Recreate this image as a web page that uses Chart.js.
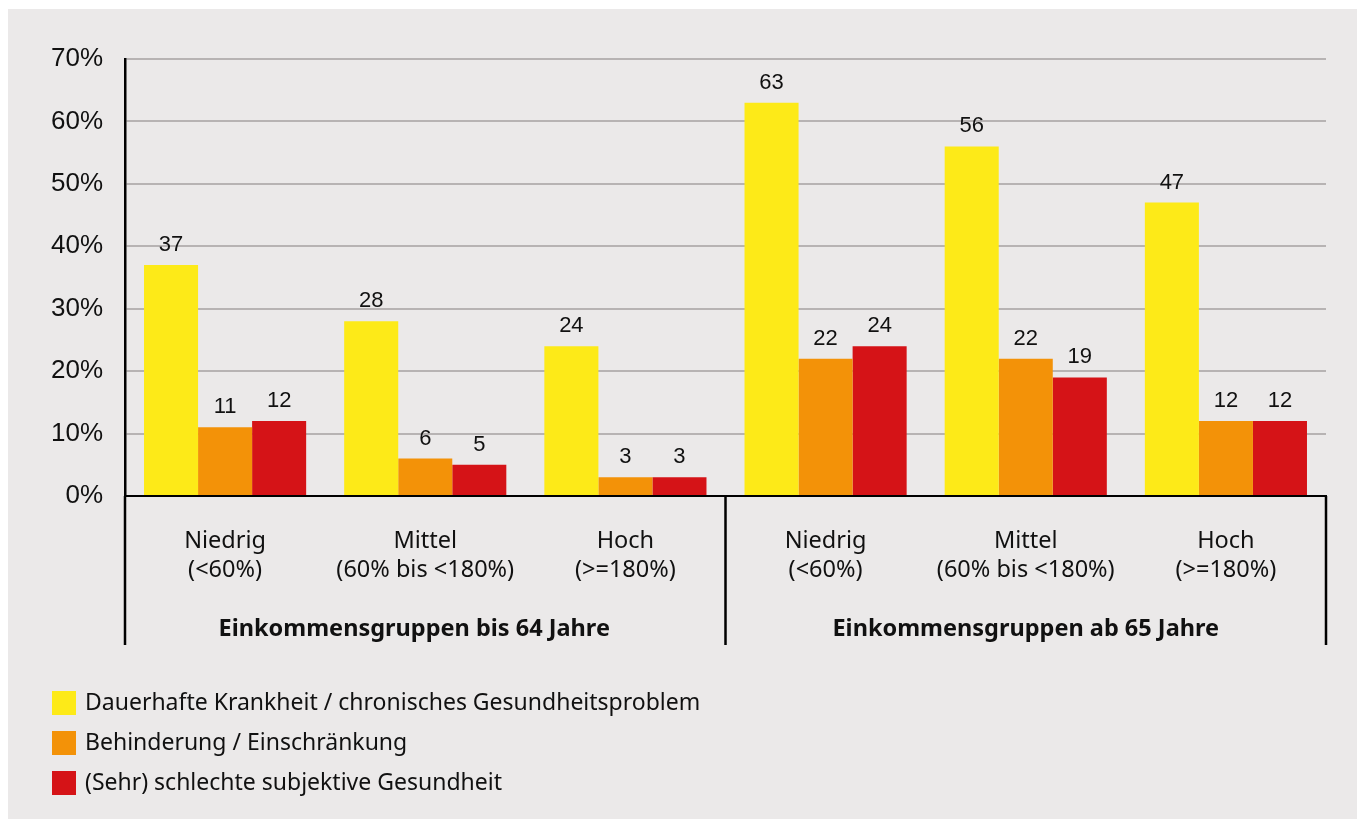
<!DOCTYPE html>
<html>
<head>
<meta charset="utf-8">
<script src="https://cdn.jsdelivr.net/npm/chart.js@4/dist/chart.umd.min.js"></script>
<style>
  html, body { margin: 0; padding: 0; background: #fff; }
  #wrap { position: absolute; left: 8px; top: 9px; width: 1349px; height: 810px; background: #ebe9e9; }
</style>
</head>
<body>
<div id="wrap"><canvas id="myChart" width="1349" height="810"></canvas></div>
<script>
var categories = [
    ['Niedrig', '(<60%)'],
    ['Mittel', '(60% bis <180%)'],
    ['Hoch', '(>=180%)'],
    ['Niedrig', '(<60%)'],
    ['Mittel', '(60% bis <180%)'],
    ['Hoch', '(>=180%)']
];
var groups = ['Einkommensgruppen bis 64 Jahre', 'Einkommensgruppen ab 65 Jahre'];
var seriesNames = [
    'Dauerhafte Krankheit / chronisches Gesundheitsproblem',
    'Behinderung / Einschränkung',
    '(Sehr) schlechte subjektive Gesundheit'
];
var chronisch = [37, 28, 24, 63, 56, 47];
var behinderung = [11, 6, 3, 22, 22, 12];
var schlecht = [12, 5, 3, 24, 19, 12];
var colors = ['#fdea18', '#f39208', '#d51317'];

var textFont = '"Noto Sans", sans-serif';

// Werte über den Balken, Gruppenlinien, Gruppentitel und Legende
var extras = {
    id: 'extras',
    afterDatasetsDraw: function (chart) {
        var c = chart.ctx;
        var area = chart.chartArea;
        var x = chart.scales.x;
        c.save();
        c.fillStyle = '#111';
        c.font = '22px "Liberation Sans", Arial, sans-serif';
        c.textAlign = 'center';
        c.textBaseline = 'alphabetic';
        chart.data.datasets.forEach(function (ds, i) {
            chart.getDatasetMeta(i).data.forEach(function (bar, j) {
                c.fillText(String(ds.data[j]), bar.x, bar.y - 14);
            });
        });

        var bottom = area.bottom + 149;
        var step = (area.right - area.left) / categories.length;
        c.strokeStyle = '#000';
        c.lineWidth = 2.5;
        c.beginPath();
        c.moveTo(area.left, area.bottom);
        c.lineTo(area.left, bottom);
        c.moveTo(area.left + step * 3, area.bottom);
        c.lineTo(area.left + step * 3, bottom);
        c.moveTo(area.right, area.bottom);
        c.lineTo(area.right, bottom);
        c.stroke();

        c.font = 'bold 23.5px ' + textFont;
        c.textBaseline = 'middle';
        c.fillText(groups[0], (x.getPixelForValue(0) + x.getPixelForValue(2)) / 2 - 11, area.bottom + 133);
        c.fillText(groups[1], (x.getPixelForValue(3) + x.getPixelForValue(5)) / 2, area.bottom + 133);

        c.font = '23px ' + textFont;
        c.textAlign = 'left';
        seriesNames.forEach(function (name, i) {
            var y = area.bottom + 207 + i * 40;
            c.fillStyle = colors[i];
            c.fillRect(44, y - 12, 24, 24);
            c.fillStyle = '#111';
            c.fillText(name, 77, y);
        });
        c.restore();
    }
};

var ctx = document.getElementById('myChart').getContext('2d');
var myChart = new Chart(ctx, {
    type: 'bar',
    data: {
        labels: categories,
        datasets: [
            { label: seriesNames[0], data: chronisch, backgroundColor: colors[0] },
            { label: seriesNames[1], data: behinderung, backgroundColor: colors[1] },
            { label: seriesNames[2], data: schlecht, backgroundColor: colors[2] }
        ]
    },
    options: {
        responsive: false,
        animation: false,
        categoryPercentage: 0.81,
        barPercentage: 1.0,
        layout: {
            padding: { left: 0, right: 31, top: 50, bottom: 163 }
        },
        plugins: {
            legend: { display: false },
            tooltip: { enabled: false }
        },
        scales: {
            x: {
                grid: { display: false, drawTicks: false },
                border: { display: true, color: '#000', width: 2 },
                ticks: {
                    color: '#111',
                    font: { family: textFont, size: 23.5, lineHeight: 1.23 },
                    padding: 31,
                    maxRotation: 0
                },
                afterFit: function (scale) { scale.height = 160; }
            },
            y: {
                min: 0,
                max: 70,
                grid: { color: '#b7b3b3', lineWidth: 2, drawTicks: false },
                border: { display: true, color: '#000', width: 2.5 },
                ticks: {
                    stepSize: 10,
                    color: '#111',
                    padding: 22,
                    font: { family: '"Liberation Sans", Arial, sans-serif', size: 26 },
                    callback: function (v) { return v + '%'; }
                },
                afterFit: function (scale) { scale.width = 117; }
            }
        }
    },
    plugins: [extras]
});
</script>
</body>
</html>
